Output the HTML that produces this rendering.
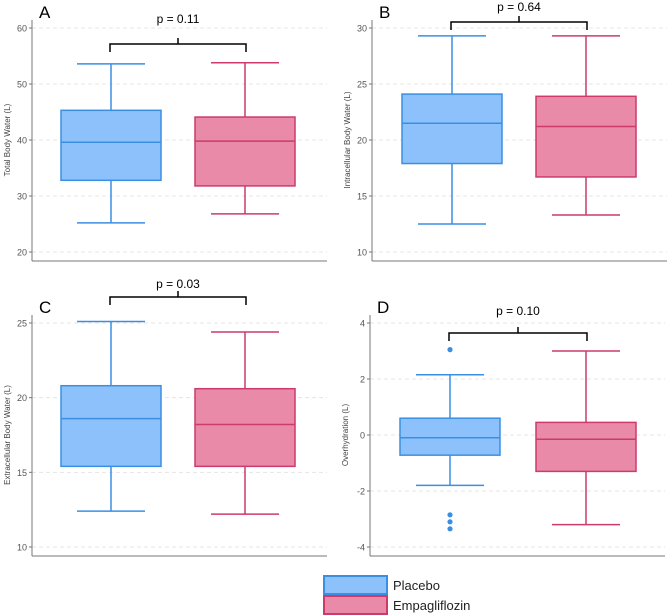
<!DOCTYPE html>
<html><head><meta charset="utf-8"><style>
body{margin:0;background:#fff;width:667px;height:616px;overflow:hidden;font-family:"Liberation Sans",sans-serif}
svg{display:block}
</style></head><body>
<svg id="c" width="667" height="616"></svg>
<script>
const groups = ['Placebo','Empagliflozin'];
const aStats = [[25.2,32.8,39.6,45.3,53.6],[26.8,31.8,39.8,44.1,53.8]];
const bStats = [[12.5,17.9,21.5,24.1,29.3],[13.3,16.7,21.2,23.9,29.3]];
const cStats = [[12.4,15.4,18.6,20.8,25.1],[12.2,15.4,18.2,20.6,24.4]];
const dStats = [[-1.8,-0.72,-0.1,0.6,2.15],[-3.2,-1.3,-0.15,0.45,3.0]];
const dOutliers = [[3.05,-2.85,-3.1,-3.35],[]];
const aTicks=[20,30,40,50,60], bTicks=[10,15,20,25,30], cTicks=[10,15,20,25], dTicks=[-4,-2,0,2,4];
const pvals=['p = 0.11','p = 0.64','p = 0.03','p = 0.10'];

const NS='http://www.w3.org/2000/svg', svg=document.getElementById('c');
function mk(t,a,p){const e=document.createElementNS(NS,t);for(const k in a)e.setAttribute(k,a[k]);(p||svg).appendChild(e);return e;}
const fills=['#8dc1fb','#e98aa9'], strokes=['#3b8fe3','#cc3b6c'];
const panels=[
 {L:'A',stats:aStats,ticks:aTicks,lo:20,hi:60,title:'Total Body Water (L)',ax:32,top:28,bot:252,cx:[111,245],out:[[],[]],py:18,by:44,axTop:20},
 {L:'B',stats:bStats,ticks:bTicks,lo:10,hi:30,title:'Intracellular Body Water (L)',ax:372,top:28,bot:252,cx:[452,586],out:[[],[]],py:6,by:22,axTop:20},
 {L:'C',stats:cStats,ticks:cTicks,lo:10,hi:25,title:'Extracellular Body Water (L)',ax:32,top:323,bot:547,cx:[111,245],out:[[],[]],py:283,by:297,axTop:315},
 {L:'D',stats:dStats,ticks:dTicks,lo:-4,hi:4,title:'Overhydration (L)',ax:370,top:323,bot:547,cx:[450,586],out:dOutliers,py:310,by:333,axTop:315}
];
panels.forEach((P,i)=>{
 const g=mk('g',{});
 
 
 const y=v=>P.bot-(v-P.lo)/(P.hi-P.lo)*(P.bot-P.top);
 const right=P.ax+295, axB=P.bot+9;
 P.ticks.forEach(t=>{
  const gl=mk('line',{x1:P.ax,x2:right,y1:y(t),y2:y(t),stroke:'#e4e4e4','stroke-dasharray':'4,3'},g);
  
  mk('line',{x1:P.ax-3,x2:P.ax,y1:y(t),y2:y(t),stroke:'#777'},g);
  const tl=mk('text',{x:P.ax-5,y:y(t)+3.5,'text-anchor':'end','font-size':9,fill:'#555'},g);tl.textContent=t;
  
 });
 mk('line',{x1:P.ax,x2:P.ax,y1:P.axTop,y2:axB,stroke:'#777'},g);
 mk('line',{x1:P.ax,x2:right,y1:axB,y2:axB,stroke:'#777'},g);
 const yt=mk('text',{x:0,y:0,transform:`translate(${P.ax-22},${(P.top+P.bot)/2}) rotate(-90)`,'text-anchor':'middle','font-size':8,fill:'#444'},g);
 yt.textContent=P.title;
 const lt=mk('text',{x:P.ax+7,y:P.axTop-2,'font-size':17,fill:'#000'},g);lt.textContent=P.L;
 
 P.stats.forEach((s,j)=>{
  const cx=P.cx[j];
  const bx=mk('g',{},g);
  
  const st={stroke:strokes[j],'stroke-width':1.5};
  mk('line',Object.assign({x1:cx,x2:cx,y1:y(s[0]),y2:y(s[4])},st),bx);
  mk('line',Object.assign({x1:cx-34,x2:cx+34,y1:y(s[0]),y2:y(s[0])},st),bx);
  mk('line',Object.assign({x1:cx-34,x2:cx+34,y1:y(s[4]),y2:y(s[4])},st),bx);
  mk('rect',Object.assign({x:cx-50,y:y(s[3]),width:100,height:y(s[1])-y(s[3]),fill:fills[j]},st),bx);
  mk('line',Object.assign({x1:cx-50,x2:cx+50,y1:y(s[2]),y2:y(s[2])},st),bx);
  P.out[j].forEach(o=>{const c=mk('circle',{cx:cx,cy:y(o),r:2.6,fill:strokes[j]},bx);
   });
 });
 const x1=P.cx[0]-1,x2=P.cx[1]+1,m=(x1+x2)/2;
 const br=mk('path',{d:`M${x1},${P.by+8} V${P.by} H${m} V${P.by-6} M${m},${P.by} H${x2} V${P.by+8}`,fill:'none',stroke:'#000','stroke-width':1.5},g);
 
 const pt=mk('text',{x:m,y:P.py+5,'text-anchor':'middle','font-size':12,fill:'#000'},g);pt.textContent=pvals[i];
 
});
const lg=mk('g',{});

groups.forEach((n,j)=>{
 const e=mk('g',{},lg);
 
 mk('rect',{x:324,y:576+j*20,width:63,height:18,fill:fills[j],stroke:strokes[j],'stroke-width':2},e);
 const t=mk('text',{x:393,y:590+j*20,'font-size':13,fill:'#222'},e);t.textContent=n;
});
</script>
</body></html>
